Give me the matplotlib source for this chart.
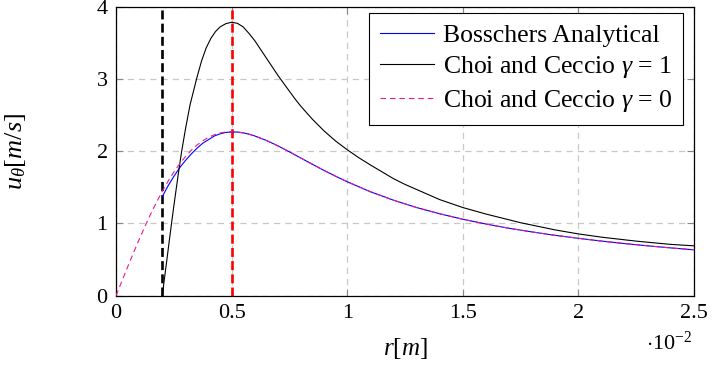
import numpy as np
import matplotlib
matplotlib.use('Agg')
import matplotlib.pyplot as plt
from matplotlib.ticker import FuncFormatter

plt.rcParams['font.family'] = ['Liberation Serif', 'DejaVu Serif']
plt.rcParams['mathtext.fontset'] = 'custom'
plt.rcParams['mathtext.rm'] = 'Liberation Serif'
plt.rcParams['mathtext.it'] = 'Liberation Serif:italic'

# radio en unidades de 1e-2 m
r_bos = [0.2, 0.225, 0.25, 0.275, 0.3, 0.325, 0.35, 0.375, 0.4, 0.425, 0.45, 0.475, 0.5,
         0.525, 0.55, 0.575, 0.6, 0.65, 0.7, 0.75, 0.8, 0.85, 0.9, 0.95, 1.0, 1.1, 1.2,
         1.3, 1.4, 1.5, 1.6, 1.7, 1.8, 1.9, 2.0, 2.1, 2.2, 2.3, 2.4, 2.5]
u_bos = [1.37, 1.52, 1.65, 1.77, 1.87, 1.96, 2.04, 2.11, 2.16, 2.21, 2.24, 2.26, 2.265,
         2.265, 2.254, 2.236, 2.211, 2.149, 2.074, 1.991, 1.904, 1.818, 1.733, 1.653, 1.577,
         1.439, 1.322, 1.220, 1.134, 1.058, 0.992, 0.933, 0.882, 0.835, 0.794, 0.756, 0.721,
         0.690, 0.661, 0.635]

r_g1 = [0.2, 0.21, 0.22, 0.23, 0.24, 0.25, 0.26, 0.27, 0.284, 0.3, 0.32, 0.35, 0.37,
        0.39, 0.41, 0.43, 0.45, 0.475, 0.5, 0.525, 0.55, 0.575, 0.6, 0.625, 0.65,
        0.675, 0.7, 0.725, 0.75, 0.775, 0.8, 0.85, 0.9, 0.95, 1.0, 1.05, 1.1, 1.2, 1.25,
        1.3, 1.4, 1.5, 1.6, 1.75, 1.9, 2.0, 2.1, 2.25, 2.4, 2.5]
u_g1 = [0.0, 0.25, 0.5, 0.75, 1.0, 1.24, 1.47, 1.70, 2.0, 2.3, 2.64, 3.02, 3.25,
        3.43, 3.56, 3.655, 3.72, 3.765, 3.785, 3.77, 3.72, 3.63, 3.53, 3.41, 3.29,
        3.17, 3.05, 2.94, 2.83, 2.72, 2.62, 2.44, 2.28, 2.14, 2.02, 1.91, 1.81, 1.62, 1.54,
        1.47, 1.33, 1.22, 1.13, 1.01, 0.91, 0.855, 0.81, 0.755, 0.71, 0.69]

r_g0 = [0.0, 0.025, 0.05, 0.075, 0.1, 0.125, 0.15, 0.175, 0.2, 0.225, 0.25, 0.275, 0.3,
        0.325, 0.35, 0.375, 0.4, 0.425, 0.45, 0.475, 0.5, 0.525, 0.55, 0.575, 0.6, 0.65,
        0.7, 0.75, 0.8, 0.85, 0.9, 0.95, 1.0, 1.1, 1.2, 1.3, 1.4, 1.5, 1.6, 1.7, 1.8, 1.9,
        2.0, 2.1, 2.2, 2.3, 2.4, 2.5]
u_g0 = [0.0, 0.199, 0.396, 0.590, 0.778, 0.959, 1.131, 1.293, 1.444, 1.583, 1.711, 1.824,
        1.924, 2.011, 2.084, 2.144, 2.192, 2.227, 2.252, 2.266, 2.270, 2.266, 2.254, 2.236,
        2.211, 2.149, 2.074, 1.991, 1.904, 1.818, 1.733, 1.653, 1.577, 1.439, 1.322, 1.220,
        1.134, 1.058, 0.992, 0.933, 0.882, 0.835, 0.794, 0.756, 0.721, 0.690, 0.661, 0.635]

r_v = 0.2   # radio del núcleo de vapor
r_c = 0.5   # radio del núcleo viscoso

fig = plt.figure(figsize=(7.14, 3.76), dpi=100)
ax = fig.add_axes([0.1625, 0.2136, 0.8095, 0.7686])

ax.axvline(r_v, color='black', lw=1.9, ls=(0, (3.4, 1.6)), zorder=2)
ax.axvline(r_c, color='red', lw=1.9, ls=(0, (3.4, 1.6)), zorder=2)

ax.plot(r_bos, u_bos, color='blue', lw=0.8, label='Bosschers Analytical', zorder=3)
ax.plot(r_g1, u_g1, color='black', lw=0.8, label=r'Choi and Ceccio $\gamma$ = 1', zorder=3)
ax.plot(r_g0, u_g0, color='#ea1a8e', lw=0.8, ls=(0, (5, 3.5)),
        label=r'Choi and Ceccio $\gamma$ = 0', zorder=4)

ax.set_xlim(0, 2.5)
ax.set_ylim(0, 4)
ax.set_xticks([0, 0.5, 1, 1.5, 2, 2.5])
ax.set_yticks([0, 1, 2, 3, 4])
ax.xaxis.set_major_formatter(FuncFormatter(lambda x, pos: f'{x:g}'))
ax.yaxis.set_major_formatter(FuncFormatter(lambda y, pos: f'{y:g}'))
ax.tick_params(direction='in', length=5, width=0.8, color='#888888',
               top=True, right=True, labelsize=16, pad=6)

ax.grid(True, color='#c8c8c8', ls=(0, (5, 4)), lw=0.9)
ax.set_axisbelow(True)
for s in ax.spines.values():
    s.set_linewidth(0.9)

ax.set_xlabel(r'$r[m]$', fontsize=18)
ax.xaxis.set_label_coords(0.5, -0.14)
ax.set_ylabel(r'$u_\theta[m/s]$', fontsize=19)
ax.yaxis.set_label_coords(-0.153, 0.5)
ax.text(0.9965, -0.125, r'$\cdot10^{-2}$', transform=ax.transAxes, fontsize=16,
        ha='right', va='top')

leg = ax.legend(loc='upper right', bbox_to_anchor=(0.981, 0.979), borderaxespad=0,
                fontsize=18.5, frameon=True, fancybox=False, edgecolor='black',
                framealpha=1, handlelength=2.1, handletextpad=0.35,
                labelspacing=0.3, borderpad=0.42)
leg.get_frame().set_linewidth(0.8)

fig.savefig('out.png', dpi=100)
